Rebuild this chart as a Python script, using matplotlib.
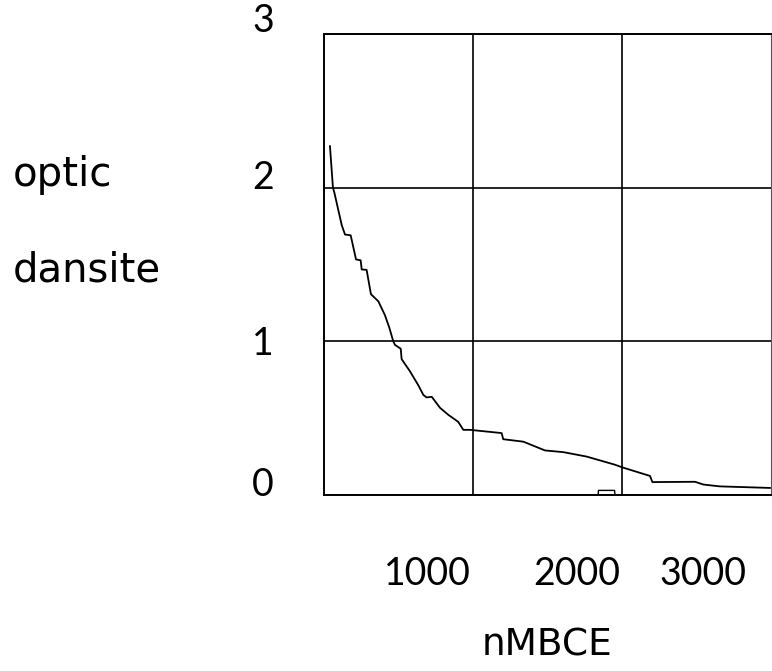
import matplotlib
matplotlib.use("Agg")
import matplotlib.pyplot as plt
from matplotlib.transforms import ScaledTranslation

# curve
mbce = [40, 60, 69, 119, 141, 179, 215, 246, 253, 286, 315, 365, 409, 438, 465,
        476, 515, 521, 577, 633, 667, 689, 723, 779, 834, 901, 935, 980, 1192,
        1203, 1338, 1483, 1606, 1763, 1953, 1998, 2188, 2204, 2490, 2546, 2658, 2993]
density = [2.27, 2.0, 1.97, 1.756, 1.695, 1.69, 1.533, 1.527, 1.468, 1.465, 1.307,
           1.26, 1.17, 1.09, 1.0, 0.977, 0.952, 0.884, 0.805, 0.714, 0.651, 0.635,
           0.639, 0.567, 0.522, 0.476, 0.424, 0.424, 0.403, 0.363, 0.347, 0.29,
           0.279, 0.25, 0.197, 0.181, 0.124, 0.084, 0.086, 0.068, 0.056, 0.046]

# small blip near the baseline
blip_x = [1840, 1842, 1950, 1953]
blip_y = [0.0, 0.03, 0.03, 0.0]

x_grid = [1000, 2000]
y_ticks = [0, 1, 2, 3]
x_labels = ["1000", "2000", "3000"]
x_label_pos = [691, 1698, 2544]

NUM_FONT = "Lato"
WORD_FONT = "DejaVu Sans"

fig = plt.figure(figsize=(7.72, 6.71), dpi=100)
ax = fig.add_axes([324 / 772, 1 - 495 / 671, 447 / 772, 461 / 671])

ax.plot(mbce, density, color="black", lw=1.3)
ax.plot(blip_x, blip_y, color="black", lw=1.0)

ax.set_xlim(0, 3000)
ax.set_ylim(0, 3)

ax.set_xticks(x_grid)
ax.set_xticklabels([])
ax.set_xticks(x_label_pos, x_labels, minor=True)
ax.tick_params(axis="x", which="both", length=0, pad=44, labelsize=27)
for t in ax.get_xticklabels(minor=True):
    t.set_fontfamily(NUM_FONT)

ax.set_yticks(y_ticks)
ax.set_yticklabels([str(v) for v in y_ticks])
ax.tick_params(axis="y", length=0, pad=36, labelsize=27)
# the scanned labels sit a little above their gridlines, by varying amounts
lift_px = [13, 1, 13, 17]
for t, dy in zip(ax.get_yticklabels(), lift_px):
    t.set_fontfamily(NUM_FONT)
    t.set_transform(t.get_transform() + ScaledTranslation(0, dy / 100, fig.dpi_scale_trans))

ax.grid(True, which="major", color="black", lw=1.2)
for side in ["left", "top", "bottom"]:
    ax.spines[side].set_linewidth(1.4)
ax.spines["right"].set_linewidth(0.8)
ax.spines["right"].set_color("#555555")

fig.text(547 / 772, 1 - 645 / 671, "nMBCE", ha="center", va="center",
         fontsize=27, family=WORD_FONT)
fig.text(13 / 772, 1 - 175 / 671, "optic", ha="left", va="center",
         fontsize=29, family=WORD_FONT)
fig.text(13 / 772, 1 - 270 / 671, "dansite", ha="left", va="center",
         fontsize=29, family=WORD_FONT)

fig.savefig("out.png", dpi=100)
